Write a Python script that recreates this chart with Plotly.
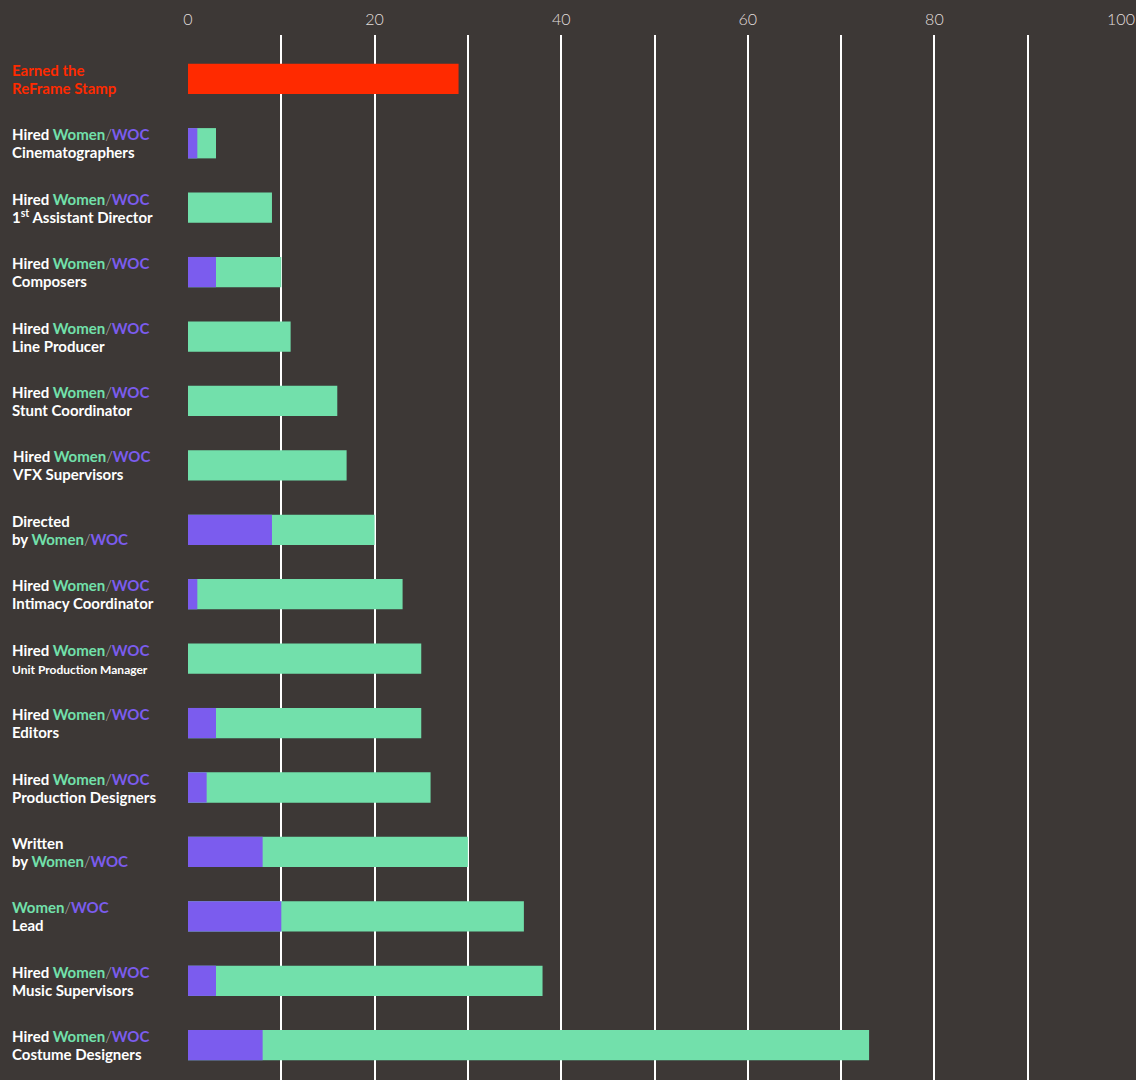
import plotly.graph_objects as go

# ---- data ----
line1 = ["Earned the", "Hired", "Hired", "Hired", "Hired", "Hired", "Hired", "Directed",
         "Hired", "Hired", "Hired", "Hired", "Written", "", "Hired", "Hired"]
line2 = ["ReFrame Stamp", "Cinematographers", "1<sup>st</sup> Assistant Director", "Composers",
         "Line Producer", "Stunt Coordinator", "VFX Supervisors", "by",
         "Intimacy Coordinator", "Unit Production Manager", "Editors", "Production Designers",
         "by", "Lead", "Music Supervisors", "Costume Designers"]
stamp_value = [29]
women_values = [None, 3, 9, 10, 11, 16, 17, 20, 23, 25, 25, 26, 30, 36, 38, 73]
woc_values = [None, 1, 0, 3, 0, 0, 0, 9, 1, 0, 3, 2, 8, 10, 3, 8]
tick_vals = [0, 20, 40, 60, 80, 100]
tick_text = ["0", "20", "40", "60", "80", "100"]

BG = "#3d3836"
GREEN = "#72e0ab"
PURPLE = "#7b5cee"
RED = "#ff2a00"

rows = list(range(len(line1)))

fig = go.Figure()
fig.add_trace(go.Bar(y=[0], x=stamp_value, orientation="h", marker_color=RED,
                     marker_line_width=0, width=0.47, name="Stamp"))
fig.add_trace(go.Bar(y=rows[1:], x=women_values[1:], orientation="h", marker_color=GREEN,
                     marker_line_width=0, width=0.47, name="Women"))
fig.add_trace(go.Bar(y=rows[1:], x=woc_values[1:], orientation="h", marker_color=PURPLE,
                     marker_line_width=0, width=0.47, name="WOC"))

W = f"<span style='color:{GREEN}'>Women</span>"
S = "<span style='color:#b5b1ae;font-weight:300'>/</span>"
O = f"<span style='color:{PURPLE}'>WOC</span>"
WW = W + S + O


def big(s):
    return f"<span style='font-size:15px'>{s}</span>"


annotations = []
for i in rows:
    if i == 0:
        txt = f"<span style='color:{RED}'>{big(line1[i])}<br>{big(line2[i])}</span>"
    elif line2[i] == "by":
        txt = f"{big(line1[i])}<br>{big('by ' + WW)}"
    elif line1[i] == "":
        txt = f"{big(WW)}<br>{big(line2[i])}"
    elif i == 9:
        txt = f"{big(line1[i] + ' ' + WW)}<br><span style='font-size:12px'>{line2[i]}</span>"
    else:
        txt = f"{big(line1[i] + ' ' + WW)}<br>{big(line2[i])}"
    annotations.append(dict(
        x=-0.1908, xref="paper", y=i, yref="y", text=txt, showarrow=False,
        xanchor="left", yanchor="middle", align="left",
        font=dict(family="Lato", size=14, color="white", weight=700),
    ))

fig.update_layout(
    width=1136, height=1080,
    margin=dict(l=188, r=15, t=35, b=0),
    paper_bgcolor=BG, plot_bgcolor=BG,
    barmode="overlay", showlegend=False,
    annotations=annotations,
    xaxis=dict(side="top", range=[0, 100], tickvals=tick_vals, ticktext=tick_text,
               showgrid=True, gridcolor="white", gridwidth=2, zeroline=False,
               showline=False, ticks="", ticklabelstandoff=6,
               minor=dict(dtick=10, showgrid=True, gridcolor="white", gridwidth=2, ticks=""),
               tickfont=dict(family="Lato", size=16, color="#e2dfdd", weight=300)),
    yaxis=dict(range=[15.54, -0.68], showgrid=False, zeroline=False,
               showticklabels=False, showline=False),
)

fig.write_html("out.html", config={"displayModeBar": False},
               post_script="document.body.style.margin='0';document.body.style.background='#3d3836';")
